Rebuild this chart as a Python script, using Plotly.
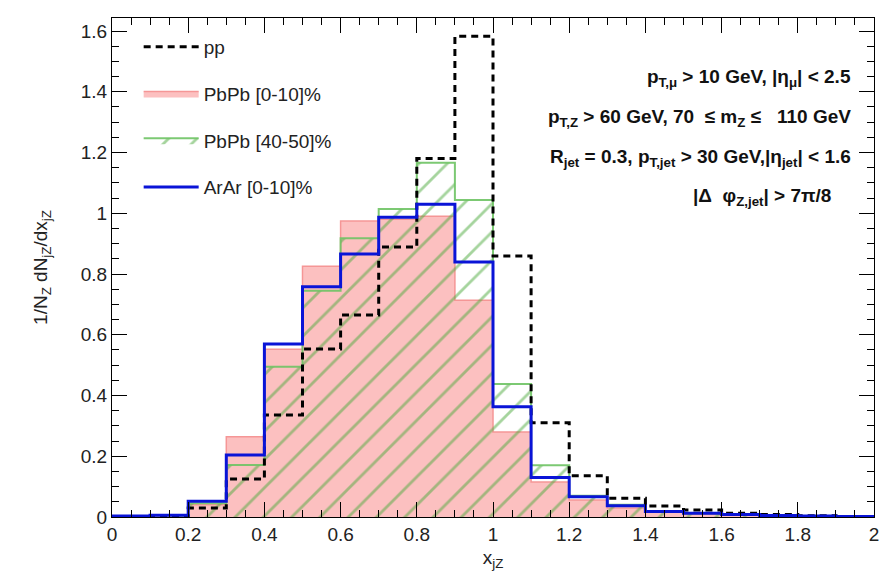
import plotly.graph_objects as go

# bin edges 0..2 step 0.1
bin_edges = [round(i * 0.1, 1) for i in range(21)]

pp = [0.0, 0.0, 0.03, 0.125, 0.336, 0.553, 0.665, 0.889, 1.18, 1.583,
      0.859, 0.31, 0.136, 0.062, 0.036, 0.023, 0.012, 0.008, 0.004, 0.002]
pbpb_0_10 = [0.002, 0.004, 0.04, 0.264, 0.552, 0.826, 0.975, 0.98, 0.99, 0.714,
             0.28, 0.115, 0.056, 0.03, 0.016, 0.01, 0.007, 0.004, 0.003, 0.002]
pbpb_40_50 = [0.002, 0.005, 0.045, 0.171, 0.495, 0.745, 0.918, 1.014, 1.166, 1.044,
              0.438, 0.17, 0.07, 0.04, 0.02, 0.012, 0.008, 0.005, 0.003, 0.002]
arar_0_10 = [0.003, 0.006, 0.052, 0.204, 0.57, 0.758, 0.866, 0.987, 1.03, 0.84,
             0.363, 0.13, 0.067, 0.037, 0.018, 0.012, 0.008, 0.005, 0.003, 0.002]

def step(vals):
    return bin_edges, list(vals) + [vals[-1]]

fig = go.Figure()

x, y = step(pbpb_0_10)
fig.add_trace(go.Scatter(x=x, y=y, mode="lines", line_shape="hv",
                         line=dict(color="rgba(245,150,150,1)", width=1.5),
                         fill="tozeroy", fillcolor="rgba(252,192,192,1)",
                         name="PbPb [0-10]%", legendrank=2, legendgroup="b"))
x, y = step(pbpb_40_50)
fig.add_trace(go.Scatter(x=x, y=y, mode="lines", line_shape="hv",
                         line=dict(color="rgba(110,195,100,0.9)", width=2),
                         fill="tozeroy",
                         fillpattern=dict(shape="/", fgcolor="rgb(75,170,60)",
                                          bgcolor="rgba(0,0,0,0)", size=20, solidity=0.14),
                         fillcolor="rgba(0,0,0,0)",
                         name="PbPb [40-50]%", legendrank=3, legendgroup="c"))
x, y = step(pp)
fig.add_trace(go.Scatter(x=x, y=y, mode="lines", line_shape="hv",
                         line=dict(color="black", width=3, dash="7px,5px"),
                         name="pp", legendrank=1, legendgroup="a"))
x, y = step(arar_0_10)
fig.add_trace(go.Scatter(x=x, y=y, mode="lines", line_shape="hv",
                         line=dict(color="rgb(10,20,215)", width=3),
                         name="ArAr [0-10]%", legendrank=4, legendgroup="d"))

axis_common = dict(showline=True, linecolor="black", linewidth=1, mirror="ticks",
                   ticks="inside", ticklen=15, tickcolor="black", tickwidth=1,
                   showgrid=False, zeroline=False,
                   tickfont=dict(family="Liberation Sans, Arial", size=19, color="#222"))

fig.update_xaxes(range=[0, 2], dtick=0.2, tick0=0,
                 minor=dict(dtick=0.05, ticks="inside", ticklen=7, tickcolor="black"),
                 title=dict(text="x<sub>jZ</sub>", font=dict(family="Liberation Sans, Arial", size=19, color="#222"),
                            standoff=6),
                 **axis_common)
fig.update_yaxes(range=[0, 1.643], dtick=0.2, tick0=0,
                 minor=dict(dtick=0.05, ticks="inside", ticklen=7, tickcolor="black"),
                 title=dict(text="1/N<sub>Z</sub> dN<sub>jZ</sub>/dx<sub>jZ</sub>",
                            font=dict(family="Liberation Sans, Arial", size=19, color="#222"),
                            standoff=28),
                 **axis_common)

ann_font = dict(family="Liberation Sans, Arial", size=19, color="#111")
texts = [
    ("<b>p<sub>T,μ</sub> > 10 GeV, |η<sub>μ</sub>| < 2.5</b>", 78, 855),
    ("<b>p<sub>T,Z</sub> > 60 GeV, 70  ≤ m<sub>Z</sub> ≤   110 GeV</b>", 118, 855),
    ("<b>R<sub>jet</sub> = 0.3, p<sub>T,jet</sub> > 30 GeV,|η<sub>jet</sub>| < 1.6</b>", 158, 855),
    ("<b>|Δ  φ<sub>Z,jet</sub>| > 7π/8</b>", 197, 835),
]
for t, py, px in texts:
    fig.add_annotation(text=t, xref="paper", yref="paper",
                       x=(px - 112) / 764, y=(517 - py) / 499,
                       xanchor="right", yanchor="middle", showarrow=False, font=ann_font)

fig.update_layout(
    width=891, height=576,
    margin=dict(l=112, r=15, t=18, b=59),
    plot_bgcolor="white", paper_bgcolor="white",
    showlegend=True,
    legend=dict(x=0.035, y=0.98, xanchor="left", yanchor="top",
                font=dict(family="Liberation Sans, Arial", size=19, color="#222"),
                bgcolor="rgba(0,0,0,0)", tracegroupgap=19, itemwidth=55,
                traceorder="grouped"),
)

fig.write_html("out.html")
